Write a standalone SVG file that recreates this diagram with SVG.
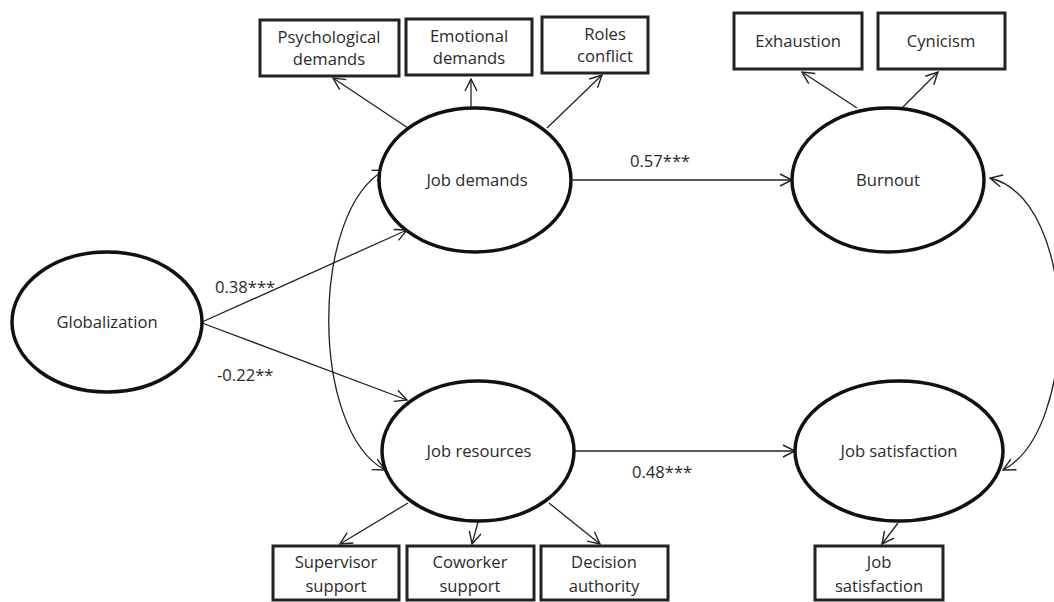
<svg xmlns="http://www.w3.org/2000/svg" width="1054" height="602" viewBox="0 0 1054 602">
<defs>
<marker id="arr" markerUnits="userSpaceOnUse" markerWidth="14" markerHeight="14" viewBox="0 0 14 14" refX="13" refY="7" orient="auto-start-reverse">
<path d="M1,1 L13,7 L1,13" fill="none" stroke="#222" stroke-width="1.4"/>
</marker>
</defs>
<style>
.lat{fill:#fff;stroke:#111;stroke-width:3.5}
.box{fill:#fff;stroke:#222;stroke-width:3}
.t{font-family:"Open Sans","Liberation Sans",sans-serif;font-size:16.6px;fill:#2a2a2a;text-anchor:middle}
.lbl{font-family:"Open Sans","Liberation Sans",sans-serif;font-size:16.6px;fill:#2a2a2a}
.c{fill:none;stroke:#222;stroke-width:1.3;marker-end:url(#arr)}
.cb{fill:none;stroke:#222;stroke-width:1.3;marker-end:url(#arr);marker-start:url(#arr)}
</style>
<rect width="1054" height="602" fill="#fff"/>
<g id="connectors">
<path class="c" d="M408,128 L333,78"/>
<path class="c" d="M471,108 L471,79"/>
<path class="c" d="M547,128 L602,75"/>
<path class="c" d="M857,108 L802,72"/>
<path class="c" d="M902,108 L938,72"/>
<path class="c" d="M573,180 L792,180"/>
<path class="c" d="M202,322 L407,230"/>
<path class="c" d="M202,323 L407,400"/>
<path class="cb" d="M385,170 C310,210 310,430 385,470"/>
<path class="c" d="M575,451 L795,451"/>
<path class="cb" d="M990,178 C1080,200 1080,430 1003,470"/>
<path class="c" d="M408,503 L340,544"/>
<path class="c" d="M478,522 L472,544"/>
<path class="c" d="M549,503 L600,544"/>
<path class="c" d="M898,523 L882,544"/>
<text class="lbl" x="630" y="167">0.57***</text>
<text class="lbl" x="215" y="293">0.38***</text>
<text class="lbl" x="217" y="381">-0.22**</text>
<text class="lbl" x="632" y="478">0.48***</text>
</g>
<g id="globalization"><ellipse class="lat" cx="107" cy="322" rx="95" ry="70"/><text class="t" x="107" y="328">Globalization</text></g>
<g id="job-demands"><ellipse class="lat" cx="475" cy="180" rx="96" ry="72"/><text class="t" x="477" y="186">Job demands</text></g>
<g id="job-resources"><ellipse class="lat" cx="478" cy="451" rx="96" ry="70"/><text class="t" x="479" y="457">Job resources</text></g>
<g id="burnout"><ellipse class="lat" cx="888" cy="180" rx="96" ry="72"/><text class="t" x="888" y="186">Burnout</text></g>
<g id="job-satisfaction"><ellipse class="lat" cx="899" cy="451" rx="104" ry="70"/><text class="t" x="899" y="457">Job satisfaction</text></g>
<g id="psychological-demands"><rect class="box" x="260" y="20" width="139" height="56"/><text class="t" x="329" y="43">Psychological</text><text class="t" x="329" y="65">demands</text></g>
<g id="emotional-demands"><rect class="box" x="406" y="19" width="126" height="56"/><text class="t" x="469" y="42">Emotional</text><text class="t" x="469" y="64">demands</text></g>
<g id="roles-conflict"><rect class="box" x="542" y="17" width="106" height="56"/><text class="t" x="605" y="40">Roles</text><text class="t" x="605" y="62">conflict</text></g>
<g id="exhaustion"><rect class="box" x="734" y="13" width="128" height="56"/><text class="t" x="798" y="47">Exhaustion</text></g>
<g id="cynicism"><rect class="box" x="878" y="13" width="127" height="56"/><text class="t" x="941" y="47">Cynicism</text></g>
<g id="supervisor-support"><rect class="box" x="273" y="546" width="126" height="54"/><text class="t" x="336" y="568">Supervisor</text><text class="t" x="336" y="592">support</text></g>
<g id="coworker-support"><rect class="box" x="407" y="546" width="127" height="54"/><text class="t" x="470" y="568">Coworker</text><text class="t" x="470" y="592">support</text></g>
<g id="decision-authority"><rect class="box" x="541" y="546" width="127" height="54"/><text class="t" x="604" y="568">Decision</text><text class="t" x="604" y="592">authority</text></g>
<g id="job-satisfaction-item"><rect class="box" x="815" y="546" width="128" height="54"/><text class="t" x="879" y="568">Job</text><text class="t" x="879" y="592">satisfaction</text></g>
</svg>
